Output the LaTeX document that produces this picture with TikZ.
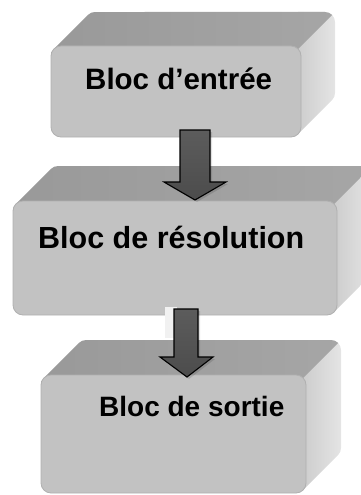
\documentclass[tikz,border=0pt]{standalone}
\usepackage{fontspec}
\setmainfont{Liberation Sans}
\definecolor{topl}{HTML}{999999}
\definecolor{topr}{HTML}{A6A6A6}
\definecolor{rightl}{HTML}{CDCDCD}
\definecolor{rightr}{HTML}{E5E5E5}
\definecolor{frontc}{HTML}{C2C2C2}
\definecolor{frontd}{HTML}{B0B0B0}
\definecolor{arrtop}{HTML}{5C5C5C}
\definecolor{arrmid}{HTML}{030303}
\definecolor{arrbot}{HTML}{4C4C4C}
\definecolor{glow}{HTML}{F1F1F1}
\tikzset{
  frontface/.style={draw=frontd, line width=0.8pt, fill=frontc, rounded corners=10pt,
    rectangle, inner sep=0pt},
  blocktext/.style={anchor=base west, inner sep=0pt, text=black},
  blockarrow/.style={draw=black, line width=1.1pt, line join=miter,
    top color=arrtop, middle color=arrmid, bottom color=arrbot},
  arrshadow/.style={fill=black, opacity=0.12},
}
% #1 x0, #2 y0, #3 x1, #4 y1 (front face), #5 depth, #6 node name
\newcommand{\blockbox}[6]{%
  \begin{scope}
    \clip ({#1+2.93},{#2+2.93}) -- ({#1+#5+2.93},{#2-#5+2.93})
      arc[start angle=225,end angle=270,radius=10] -- ({#3+#5-10},{#2-#5})
      arc[start angle=270,end angle=360,radius=10] -- ({#3+#5},{#4-#5-10})
      arc[start angle=0,end angle=45,radius=10] -- ({#3-2.93},{#4-2.93})
      arc[start angle=45,end angle=90,radius=10] -- ({#1+10},{#4})
      arc[start angle=90,end angle=180,radius=10] -- ({#1},{#2+10})
      arc[start angle=180,end angle=225,radius=10] -- cycle;
    \shade[left color=rightl, right color=rightr] ({#3-3},{#2-#5-2}) rectangle ({#3+#5+1},{#4+2});
    \begin{scope}
      \clip ({#3-2.93-600},{#2+2.93+600}) -- ({#3-2.93+600},{#2+2.93-600}) -- ({#3-2.93-800},{#2+2.93-800}) -- cycle;
      \shade[left color=topl, right color=topr] ({#1-2},{#2-#5-2}) rectangle ({#3+#5+2},{#2+14});
    \end{scope}
  \end{scope}
  \node[frontface, minimum width={#3-#1}, minimum height={#4-#2}] (#6) at ({(#1+#3)/2},{(#2+#4)/2}) {};
}
\begin{document}
\begin{tikzpicture}[x=1pt, y=-1pt]
\useasboundingbox (0,0) rectangle (361,495);
% ---------- Blocks
\blockbox{51}{46}{301}{137}{34}{b1}
\node[blocktext, font=\fontsize{29.5}{32}\selectfont\bfseries] (t1) at (85,89) {Bloc d’entrée};
\blockbox{13}{201}{337}{315}{35}{b2}
\node[blocktext, font=\fontsize{30.5}{33}\selectfont\bfseries] (t2) at (38,248) {Bloc de résolution};
\blockbox{41}{375}{306}{493}{35}{b3}
\node[blocktext, font=\fontsize{28}{31}\selectfont\bfseries] (t3) at (99,416) {Bloc de sortie};
% ---------- Arrow 1 (b1 -> b2)
\fill[arrshadow] (182,132) -- (212,132) -- (212,184) -- (228,184) -- (197,202) -- (166,184) -- (182,184) -- cycle;
\path[blockarrow] (180,130) -- (210,130) -- (210,182) -- (226,182) -- (195,200) -- (164,182) -- (180,182) -- cycle;
% ---------- Arrow 2 (b2 -> b3)
\fill[glow] (165,307) rectangle (177,338);
\fill[arrshadow] (176,311) -- (200,311) -- (200,359) -- (215,359) -- (189,379) -- (162,359) -- (176,359) -- cycle;
\path[blockarrow] (174,309) -- (198,309) -- (198,357) -- (213,357) -- (187,377) -- (160,357) -- (174,357) -- cycle;
\end{tikzpicture}
\end{document}
